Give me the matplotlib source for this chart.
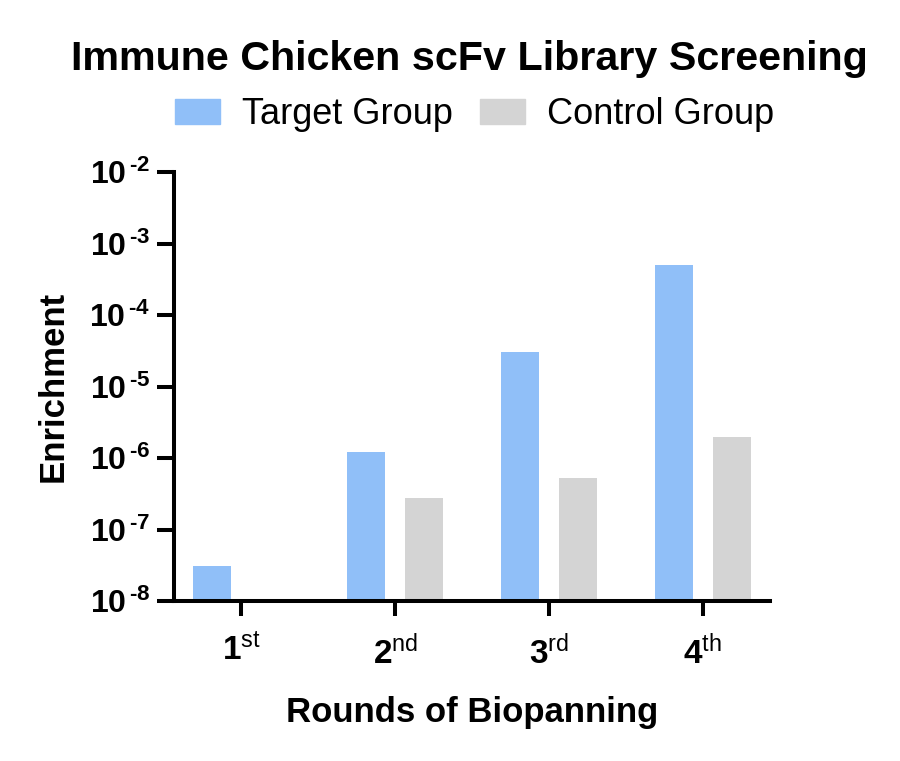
import numpy as np
import matplotlib
matplotlib.use("Agg")
import matplotlib.pyplot as plt
from matplotlib.ticker import FixedLocator, NullLocator
from matplotlib.patches import Patch

plt.rcParams['font.family'] = ['Liberation Sans', 'DejaVu Sans']
plt.rcParams['mathtext.fontset'] = 'custom'
plt.rcParams['mathtext.rm'] = 'Liberation Sans'
plt.rcParams['mathtext.bf'] = 'Liberation Sans:bold'
plt.rcParams['mathtext.it'] = 'Liberation Sans:italic'

# data
rounds = [r"$\mathbf{1}^{\mathrm{st}}$", r"$\mathbf{2}^{\mathrm{nd}}$",
          r"$\mathbf{3}^{\mathrm{rd}}$", r"$\mathbf{4}^{\mathrm{th}}$"]
target_group = [3.1e-8, 1.2e-6, 3.0e-5, 5.0e-4]
control_group = [np.nan, 2.8e-7, 5.2e-7, 2.0e-6]
decades = [-8, -7, -6, -5, -4, -3, -2]

blue = "#90BFF8"
grey = "#D4D4D4"

fig = plt.figure(figsize=(9, 7.61), dpi=100)
ax = fig.add_axes([0.193, 0.21, 0.663, 0.564])

x = np.arange(len(rounds))
w = 0.247
off = 0.188
ax.bar(x - off, target_group, width=w, color=blue)
ax.bar(x + off, control_group, width=w, color=grey)

ax.set_yscale('log')
ax.set_ylim(1e-8, 1e-2)
ax.set_xlim(-0.44, 3.44)
ax.yaxis.set_major_locator(FixedLocator([10.0 ** d for d in decades]))
ax.yaxis.set_minor_locator(NullLocator())
# hyphen-like exponent sign as in the original
ax.set_yticklabels(["$\\mathbf{10}^{\\,\\mathbf{\u2010%d}}$" % abs(d) for d in decades])
ax.set_xticks(x)
ax.set_xticklabels(rounds)

for s in ['top', 'right']:
    ax.spines[s].set_visible(False)
for s in ['left', 'bottom']:
    ax.spines[s].set_linewidth(2.9)
ax.tick_params(axis='y', length=12, width=2.9, labelsize=23, pad=5)
ax.tick_params(axis='x', length=11, width=2.9, labelsize=24, pad=13)

ax.set_ylabel("Enrichment", fontsize=25, fontweight='bold')
ax.yaxis.set_label_coords(-0.175, 0.5)
ax.set_xlabel("Rounds of Biopanning", fontsize=25, fontweight='bold')
ax.xaxis.set_label_coords(0.5, -0.22)

fig.text(0.522, 0.922, "Immune Chicken scFv Library Screening",
         fontsize=29.7, fontweight='bold', ha='center', va='center')

handles = [Patch(color=blue, label="Target Group"),
           Patch(color=grey, label="Control Group")]
fig.legend(handles=handles, loc='center', bbox_to_anchor=(0.527, 0.849),
           ncol=2, frameon=False, fontsize=26, handlelength=1.25,
           handleheight=0.7, handletextpad=0.6, columnspacing=0.75,
           borderpad=0, borderaxespad=0)

fig.savefig("out.png", dpi=100)
